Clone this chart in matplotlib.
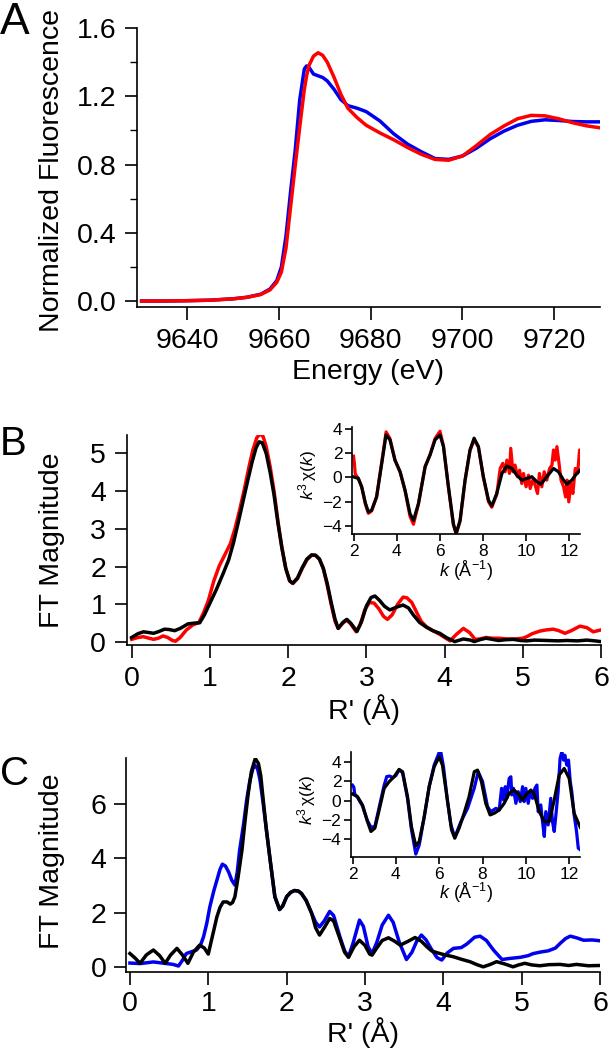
import matplotlib
matplotlib.use("Agg")
import matplotlib.pyplot as plt
from matplotlib.ticker import MultipleLocator

plt.rcParams['font.family'] = ['Liberation Sans', 'DejaVu Sans']
plt.rcParams['mathtext.fontset'] = 'custom'
plt.rcParams['mathtext.rm'] = 'Liberation Sans'
plt.rcParams['mathtext.it'] = 'Liberation Sans:italic'

RED = '#ff0000'
BLUE = '#0000ee'

# --- Panel A: XANES ---
energy = [9630, 9635, 9640, 9645, 9650, 9653, 9656, 9658, 9659.5, 9660.5, 9661.5,
          9662.5, 9663.5, 9664.5, 9665.5, 9666, 9666.5, 9667.5, 9668.5, 9669.5, 9670.5,
          9672, 9673.5, 9675, 9677, 9679, 9682, 9685, 9688, 9691, 9694, 9697, 9700,
          9703, 9706, 9709, 9712, 9715, 9718, 9721, 9724, 9727, 9730]
xanes_red = [0.0, 0.0, 0.002, 0.005, 0.013, 0.022, 0.038, 0.065, 0.11, 0.17, 0.31,
             0.55, 0.79, 1.02, 1.24, 1.32, 1.38, 1.435, 1.455, 1.44, 1.40,
             1.31, 1.21, 1.13, 1.075, 1.03, 0.985, 0.945, 0.90, 0.86, 0.83, 0.825, 0.85,
             0.91, 0.975, 1.025, 1.068, 1.088, 1.085, 1.068, 1.045, 1.027, 1.015]
xanes_blue = [0.0, 0.0, 0.002, 0.005, 0.013, 0.022, 0.04, 0.07, 0.12, 0.20, 0.38,
              0.64, 0.88, 1.18, 1.36, 1.378, 1.37, 1.33, 1.32, 1.31, 1.29,
              1.24, 1.18, 1.145, 1.13, 1.11, 1.055, 0.98, 0.92, 0.875, 0.835, 0.83, 0.85,
              0.895, 0.95, 0.995, 1.03, 1.053, 1.062, 1.058, 1.052, 1.05, 1.05]

# --- Panel B: FT magnitude ---
r_b_data = [0.00, 0.08, 0.15, 0.22, 0.28, 0.34, 0.40, 0.46, 0.52, 0.56, 0.62, 0.70, 0.78,
            0.86, 0.92, 0.98, 1.05, 1.12, 1.20, 1.26, 1.32, 1.38, 1.44, 1.50, 1.55, 1.60,
            1.64, 1.68, 1.72, 1.77, 1.82, 1.87, 1.92, 1.97, 2.02, 2.06, 2.12, 2.18, 2.24,
            2.30, 2.35, 2.40, 2.45, 2.50, 2.55, 2.60, 2.64, 2.70, 2.75, 2.80, 2.87, 2.92,
            2.98, 3.04, 3.10, 3.16, 3.22, 3.27, 3.33, 3.40, 3.47, 3.52, 3.58, 3.64, 3.70,
            3.77, 3.85, 3.94, 4.00, 4.07, 4.15, 4.24, 4.32, 4.39, 4.45, 4.53, 4.61, 4.69,
            4.80, 4.90, 5.00, 5.05, 5.12, 5.22, 5.30, 5.39, 5.46, 5.54, 5.62, 5.73, 5.82,
            5.90, 6.00]
ft_b_data = [0.07, 0.12, 0.14, 0.10, 0.07, 0.10, 0.16, 0.12, 0.04, 0.02, 0.12, 0.32, 0.45,
             0.52, 0.78, 1.10, 1.62, 2.02, 2.35, 2.60, 3.00, 3.50, 4.05, 4.65, 5.10, 5.42,
             5.52, 5.45, 5.18, 4.65, 4.00, 3.20, 2.50, 1.95, 1.62, 1.55, 1.68, 1.95, 2.18,
             2.30, 2.30, 2.20, 1.95, 1.50, 1.00, 0.55, 0.36, 0.50, 0.58, 0.48, 0.27, 0.45,
             0.85, 1.05, 1.03, 0.88, 0.68, 0.60, 0.72, 1.00, 1.19, 1.17, 1.05, 0.80, 0.55,
             0.40, 0.30, 0.20, 0.12, 0.03, 0.20, 0.36, 0.25, 0.07, 0.08, 0.12, 0.10, 0.10,
             0.08, 0.08, 0.10, 0.14, 0.22, 0.29, 0.32, 0.34, 0.30, 0.23, 0.30, 0.42, 0.38,
             0.27, 0.32]
r_b_fit = [0.00, 0.08, 0.15, 0.22, 0.28, 0.35, 0.42, 0.48, 0.55, 0.62, 0.72, 0.80, 0.87,
           0.93, 1.00, 1.08, 1.17, 1.24, 1.30, 1.36, 1.42, 1.48, 1.54, 1.59, 1.63, 1.67,
           1.72, 1.77, 1.82, 1.87, 1.92, 1.97, 2.02, 2.06, 2.12, 2.18, 2.24, 2.30, 2.35,
           2.40, 2.45, 2.50, 2.55, 2.60, 2.64, 2.70, 2.75, 2.80, 2.88, 2.94, 3.00, 3.06,
           3.11, 3.17, 3.23, 3.30, 3.38, 3.47, 3.54, 3.60, 3.68, 3.77, 3.85, 3.94, 4.02,
           4.13, 4.24, 4.33, 4.38, 4.45, 4.53, 4.61, 4.69, 4.78, 4.88, 4.97, 5.05, 5.15,
           5.31, 5.45, 5.56, 5.70, 5.82, 5.92, 6.00]
ft_b_fit = [0.12, 0.22, 0.27, 0.25, 0.23, 0.28, 0.34, 0.33, 0.30, 0.36, 0.48, 0.50, 0.51,
            0.72, 1.03, 1.38, 1.82, 2.18, 2.62, 3.15, 3.70, 4.25, 4.78, 5.15, 5.31, 5.28,
            5.00, 4.50, 3.90, 3.15, 2.50, 1.95, 1.62, 1.56, 1.70, 1.97, 2.20, 2.31, 2.30,
            2.20, 1.95, 1.55, 1.05, 0.60, 0.36, 0.52, 0.60, 0.50, 0.28, 0.55, 0.95, 1.18,
            1.22, 1.10, 0.95, 0.85, 0.92, 0.98, 0.90, 0.72, 0.52, 0.39, 0.30, 0.23, 0.12,
            0.01, 0.08, 0.05, 0.01, 0.06, 0.10, 0.07, 0.04, 0.06, 0.07, 0.04, 0.03, 0.05,
            0.04, 0.03, 0.04, 0.03, 0.05, 0.03, 0.01]

# --- Panel B inset: k^3 chi(k) ---
k_b_data = [2.00, 2.04, 2.08, 2.15, 2.22, 2.38, 2.55, 2.69, 2.84, 3.07, 3.31, 3.51, 3.69,
            3.92, 4.16, 4.39, 4.62, 4.78, 5.01, 5.32, 5.55, 5.78, 6.01, 6.17, 6.40, 6.63,
            6.76, 6.94, 7.17, 7.40, 7.59, 7.79, 8.02, 8.26, 8.41, 8.64, 8.80, 8.92, 9.03,
            9.11, 9.23, 9.29, 9.39, 9.49, 9.60, 9.70, 9.80, 9.88, 10.00, 10.11, 10.19,
            10.31, 10.42, 10.53, 10.62, 10.73, 10.84, 10.96, 11.09, 11.20, 11.27, 11.35,
            11.43, 11.51, 11.62, 11.74, 11.83, 11.90, 11.98, 12.08, 12.17, 12.28, 12.39,
            12.48, 12.51]
chi_b_data = [1.75, 1.20, 0.30, 0.10, -0.05, -0.80, -2.20, -2.95, -2.75, -1.60, 1.30, 3.75,
              3.20, 1.45, 0.45, -1.10, -3.20, -3.85, -2.20, 0.90, 1.90, 3.20, 3.80, 2.60,
              -0.80, -3.90, -4.65, -3.60, -0.30, 2.20, 3.10, 2.50, 0.00, -2.00, -2.45, -1.40,
              0.74, 1.16, 0.47, 1.43, 0.33, 2.40, 0.47, 1.02, 0.06, 0.60, -0.50, 0.33, -0.77,
              0.19, -0.91, -0.22, -0.63, -1.32, 0.33, -0.77, 0.47, -0.22, 0.74, 1.02, 2.26,
              1.43, 2.54, 1.43, -0.22, -0.77, -1.60, -0.22, -2.01, -0.50, -1.32, 0.74, 0.33,
              2.26, 2.00]
k_b_fit = [2.00, 2.22, 2.38, 2.55, 2.69, 2.84, 3.07, 3.31, 3.51, 3.69, 3.92, 4.16, 4.39,
           4.62, 4.78, 5.01, 5.32, 5.55, 5.78, 6.01, 6.17, 6.40, 6.63, 6.76, 6.94, 7.17,
           7.40, 7.59, 7.79, 8.02, 8.26, 8.41, 8.64, 8.88, 9.11, 9.34, 9.57, 9.80, 10.04,
           10.27, 10.50, 10.69, 10.96, 11.27, 11.50, 11.74, 11.89, 12.12, 12.35, 12.51]
chi_b_fit = [0.05, -0.08, -0.77, -2.10, -2.84, -2.70, -1.60, 1.16, 3.50, 3.09, 1.43, 0.47,
             -1.05, -2.98, -3.53, -2.15, 0.88, 1.85, 3.09, 3.50, 2.54, -0.77, -3.81, -4.60,
             -3.53, -0.22, 2.26, 3.23, 2.54, 0.06, -1.88, -2.34, -1.32, 0.33, 0.94, 0.74,
             0.19, -0.22, -0.08, 0.06, -0.36, -0.55, 0.06, 0.74, 0.47, -0.22, -0.55, -0.22,
             0.33, 0.61]

# --- Panel C: FT magnitude ---
r_c_data = [0.00, 0.13, 0.30, 0.47, 0.55, 0.62, 0.67, 0.72, 0.85, 0.90, 0.94, 0.98, 1.02,
            1.07, 1.11, 1.15, 1.18, 1.22, 1.26, 1.30, 1.34, 1.37, 1.40, 1.45, 1.49, 1.53,
            1.57, 1.60, 1.63, 1.66, 1.70, 1.74, 1.79, 1.85, 1.91, 1.95, 2.00, 2.05, 2.10,
            2.15, 2.19, 2.25, 2.32, 2.37, 2.42, 2.48, 2.55, 2.60, 2.68, 2.74, 2.79, 2.85,
            2.93, 2.98, 3.04, 3.09, 3.15, 3.22, 3.30, 3.36, 3.44, 3.53, 3.60, 3.66, 3.72,
            3.78, 3.85, 3.92, 3.98, 4.05, 4.13, 4.23, 4.30, 4.40, 4.47, 4.55, 4.64, 4.75,
            4.85, 4.98, 5.08, 5.15, 5.25, 5.34, 5.43, 5.49, 5.56, 5.62, 5.70, 5.79, 5.90,
            6.00]
ft_c_data = [0.15, 0.13, 0.19, 0.13, 0.10, 0.04, 0.25, 0.50, 0.63, 0.80, 1.12, 1.60, 2.22,
             2.80, 3.20, 3.60, 3.79, 3.72, 3.50, 3.20, 3.02, 3.50, 4.30, 5.25, 6.15, 6.85,
             7.31, 7.42, 7.30, 6.90, 6.05, 5.10, 3.94, 2.59, 2.12, 2.25, 2.59, 2.75, 2.82,
             2.80, 2.71, 2.45, 1.98, 1.65, 1.48, 1.70, 2.05, 1.90, 1.12, 0.60, 0.38, 0.90,
             1.73, 1.50, 0.75, 0.50, 0.90, 1.55, 1.91, 1.65, 0.90, 0.28, 0.55, 0.95, 1.18,
             1.00, 0.65, 0.35, 0.26, 0.52, 0.69, 0.72, 0.85, 1.10, 1.14, 0.98, 0.63, 0.28,
             0.32, 0.36, 0.42, 0.50, 0.56, 0.60, 0.70, 0.87, 1.05, 1.14, 1.08, 0.99, 1.00,
             0.97]
r_c_fit = [0.00, 0.06, 0.13, 0.21, 0.30, 0.38, 0.45, 0.52, 0.60, 0.67, 0.74, 0.81, 0.89,
           0.95, 1.00, 1.05, 1.11, 1.15, 1.19, 1.24, 1.28, 1.31, 1.34, 1.38, 1.43, 1.47,
           1.51, 1.55, 1.60, 1.64, 1.67, 1.70, 1.74, 1.79, 1.85, 1.91, 1.95, 2.00, 2.05,
           2.10, 2.15, 2.19, 2.25, 2.32, 2.37, 2.42, 2.48, 2.55, 2.60, 2.68, 2.74, 2.79,
           2.86, 2.93, 3.00, 3.06, 3.09, 3.15, 3.22, 3.30, 3.38, 3.45, 3.55, 3.64, 3.72,
           3.79, 3.85, 3.92, 4.02, 4.13, 4.24, 4.34, 4.43, 4.51, 4.60, 4.68, 4.78, 4.89,
           4.96, 5.04, 5.13, 5.23, 5.35, 5.49, 5.60, 5.70, 5.85, 6.00]
ft_c_fit = [0.50, 0.35, 0.14, 0.45, 0.63, 0.42, 0.14, 0.45, 0.69, 0.45, 0.14, 0.55, 0.81,
            0.70, 0.48, 1.10, 1.85, 2.20, 2.40, 2.40, 2.32, 2.38, 2.59, 3.30, 4.31, 5.40,
            6.39, 7.20, 7.68, 7.50, 7.05, 6.20, 5.10, 3.94, 2.59, 2.12, 2.25, 2.59, 2.75,
            2.82, 2.80, 2.71, 2.45, 1.98, 1.45, 1.18, 1.45, 1.79, 1.70, 1.05, 0.55, 0.36,
            0.75, 0.99, 0.80, 0.48, 0.44, 0.70, 0.98, 1.08, 0.95, 0.81, 0.95, 1.09, 0.95,
            0.75, 0.60, 0.53, 0.45, 0.38, 0.28, 0.20, 0.09, 0.01, 0.10, 0.20, 0.12, 0.01,
            0.08, 0.14, 0.08, 0.05, 0.09, 0.10, 0.06, 0.10, 0.05, 0.06]

# --- Panel C inset ---
k_c_data = [2.00, 2.06, 2.10, 2.23, 2.46, 2.69, 2.85, 3.03, 3.23, 3.46, 3.58, 3.72, 3.85,
            4.00, 4.15, 4.31, 4.54, 4.72, 4.92, 5.08, 5.31, 5.54, 5.77, 6.00, 6.08, 6.20,
            6.38, 6.54, 6.72, 7.00, 7.31, 7.62, 7.80, 8.00, 8.23, 8.38, 8.62, 8.77, 8.88,
            8.97, 9.05, 9.12, 9.23, 9.31, 9.35, 9.43, 9.54, 9.65, 9.74, 9.85, 9.92, 10.00,
            10.11, 10.20, 10.31, 10.42, 10.51, 10.57, 10.69, 10.77, 10.85, 10.92, 11.03,
            11.15, 11.23, 11.31, 11.38, 11.49, 11.58, 11.66, 11.74, 11.80, 11.89, 11.97,
            12.05, 12.12, 12.23, 12.34, 12.42, 12.51]
chi_c_data = [1.60, 1.40, 0.70, 0.35, -0.55, -2.10, -2.75, -2.70, -0.70, 1.60, 2.50, 2.55,
              2.40, 2.60, 3.20, 2.90, 0.20, -3.00, -5.55, -4.60, -1.70, 1.50, 3.70, 5.00,
              5.00, 3.50, 0.00, -2.50, -3.80, -2.20, -0.80, 1.30, 3.00, 2.00, -0.60, -1.14,
              -0.80, -0.97, 1.28, 0.07, 1.45, 0.24, 2.31, 2.48, 0.59, 1.28, -0.28, 0.93,
              -0.10, 1.45, -0.10, 1.28, -0.28, 0.93, 0.24, 1.28, 1.62, -1.14, -0.45, -2.17,
              -3.72, -1.14, -2.52, 0.24, -2.17, -3.20, -1.66, 0.93, 4.38, 5.07, 4.21, 4.72,
              3.69, 4.21, 1.97, 0.93, -1.48, -3.20, -4.93, -5.10]
k_c_fit = [2.00, 2.23, 2.46, 2.69, 2.85, 3.03, 3.23, 3.46, 3.69, 3.92, 4.15, 4.31, 4.54,
           4.72, 4.92, 5.08, 5.31, 5.54, 5.77, 6.00, 6.15, 6.38, 6.57, 6.72, 6.92, 7.15,
           7.38, 7.62, 7.77, 7.95, 8.15, 8.35, 8.54, 8.77, 9.00, 9.23, 9.46, 9.69, 9.85,
           10.00, 10.23, 10.38, 10.62, 10.85, 11.08, 11.31, 11.54, 11.77, 12.00, 12.23,
           12.51]
chi_c_fit = [0.69, 0.41, -0.45, -2.17, -3.20, -2.86, -0.97, 1.28, 1.97, 2.48, 3.24, 3.00,
             0.41, -2.69, -4.69, -4.24, -1.66, 1.45, 3.52, 4.55, 3.69, 0.07, -3.03, -3.90,
             -2.86, -1.31, 0.41, 3.00, 3.17, 1.97, -0.28, -1.48, -1.31, -0.97, -0.28, 0.76,
             1.10, 0.59, 0.07, 0.59, 1.10, 0.76, -1.14, -2.17, -2.17, 0.07, 2.66, 3.34,
             2.31, -1.31, -2.76]

W, H = 609, 1050
fig = plt.figure(figsize=(W / 100, H / 100), dpi=100)


def px_axes(left, top, right, bottom):
    return fig.add_axes([left / W, 1 - bottom / H, (right - left) / W, (bottom - top) / H])


def style(ax, size, length=9, pad=6):
    for s in ['top', 'right']:
        ax.spines[s].set_visible(False)
    for s in ['left', 'bottom']:
        ax.spines[s].set_linewidth(1.2)
    ax.tick_params(direction='out', length=length, width=1.2, labelsize=size, pad=pad)
    ax.tick_params(which='minor', direction='out', length=length * 0.55, width=1.0)


LW = 2.5
FS = 20.5   # main tick labels / axis titles
IFS = 12.5  # inset text

# Panel A
axA = px_axes(137, 28, 600, 307)
axA.plot(energy, xanes_blue, color=BLUE, lw=LW)
axA.plot(energy, xanes_red, color=RED, lw=LW)
axA.set_xlim(9629, 9730)
axA.set_ylim(-0.035, 1.6)
axA.set_yticks([0.0, 0.4, 0.8, 1.2, 1.6])
axA.set_yticklabels(['0.0', '0.4', '0.8', '1.2', '1.6'])
axA.yaxis.set_minor_locator(MultipleLocator(0.2))
axA.set_xticks([9640, 9660, 9680, 9700, 9720])
style(axA, FS)
fig.text(52 / W, 1 - 170 / H, 'Normalized Fluorescence', rotation=90, fontsize=FS,
         ha='center', va='center')
fig.text(368 / W, 1 - 372 / H, 'Energy (eV)', fontsize=FS, ha='center', va='center')
fig.text(0, 1 - 34 / H, 'A', fontsize=32, ha='left', va='baseline')

# Panel B
axB = px_axes(127, 435, 601, 645)
axB.plot(r_b_data, ft_b_data, color=RED, lw=LW)
axB.plot(r_b_fit, ft_b_fit, color='black', lw=LW)
axB.set_xlim(-0.06, 6)
axB.set_ylim(-0.08, 5.49)
axB.set_yticks([0, 1, 2, 3, 4, 5])
axB.set_xticks([0, 1, 2, 3, 4, 5, 6])
style(axB, FS)
fig.text(52 / W, 1 - 540 / H, 'FT Magnitude', rotation=90, fontsize=FS,
         ha='center', va='center')
fig.text(364 / W, 1 - 710 / H, "R' (Å)", fontsize=FS, ha='center', va='center')
fig.text(0, 1 - 455 / H, 'B', fontsize=29, ha='left', va='baseline')

insB = px_axes(352, 427, 580, 534)
insB.plot(k_b_data, chi_b_data, color=RED, lw=2.3)
insB.plot(k_b_fit, chi_b_fit, color='black', lw=2.3)
insB.set_xlim(1.93, 12.5)
insB.set_ylim(-4.65, 4.15)
insB.set_xticks([2, 4, 6, 8, 10, 12])
insB.set_yticks([-4, -2, 0, 2, 4])
style(insB, IFS, length=5, pad=2)
fig.text(308 / W, 1 - 475 / H, r'$k^3\,\mathrm{\chi}(k)$', rotation=90, fontsize=IFS,
         ha='center', va='center')
fig.text(466 / W, 1 - 571 / H, r'$k$ (Å$^{-1}$)', fontsize=IFS + 0.5, ha='center', va='center')

# Panel C
axC = px_axes(126, 758, 600, 972)
axC.plot(r_c_data, ft_c_data, color=BLUE, lw=LW)
axC.plot(r_c_fit, ft_c_fit, color='black', lw=LW)
axC.set_xlim(-0.05, 6)
axC.set_ylim(-0.18, 7.7)
axC.set_yticks([0, 2, 4, 6])
axC.set_xticks([0, 1, 2, 3, 4, 5, 6])
style(axC, FS, pad=5)
fig.text(52 / W, 1 - 861 / H, 'FT Magnitude', rotation=90, fontsize=FS,
         ha='center', va='center')
fig.text(363 / W, 1 - 1033 / H, "R' (Å)", fontsize=FS, ha='center', va='center')
fig.text(0, 1 - 785 / H, 'C', fontsize=29, ha='left', va='baseline')

insC = px_axes(351, 752, 580, 857)
insC.plot(k_c_data, chi_c_data, color=BLUE, lw=2.3)
insC.plot(k_c_fit, chi_c_fit, color='black', lw=2.3)
insC.set_xlim(1.93, 12.5)
insC.set_ylim(-5.85, 5.05)
insC.set_xticks([2, 4, 6, 8, 10, 12])
insC.set_yticks([-4, -2, 0, 2, 4])
style(insC, IFS, length=5, pad=2)
fig.text(307 / W, 1 - 800 / H, r'$k^3\,\mathrm{\chi}(k)$', rotation=90, fontsize=IFS,
         ha='center', va='center')
fig.text(466 / W, 1 - 893 / H, r'$k$ (Å$^{-1}$)', fontsize=IFS + 0.5, ha='center', va='center')

fig.savefig('out.png', dpi=100)
